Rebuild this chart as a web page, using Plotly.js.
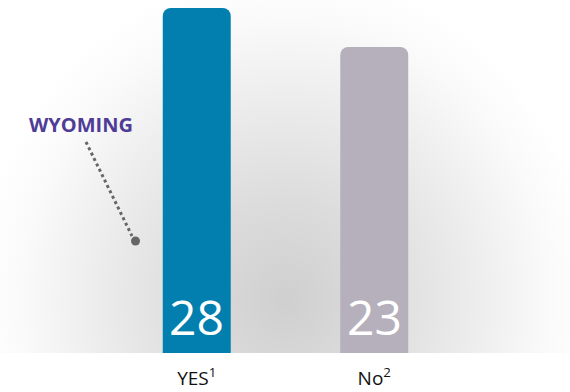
<!DOCTYPE html>
<html>
<head>
<meta charset="utf-8">
<script src="https://cdn.plot.ly/plotly-3.0.1.min.js"></script>
<style>
  html, body { margin:0; padding:0; background:#fff; }
  #wrap { position:relative; width:570px; height:392px; overflow:hidden; }
  #bg { position:absolute; left:0; top:0; width:570px; height:353px;
        background: radial-gradient(ellipse 310px 330px at 285px 300px, #cfcfcf 0%, #dcdcdc 30%, #ececec 60%, #fafafa 85%, #ffffff 100%); }
  #chart { position:absolute; left:0; top:0; width:570px; height:392px; }
</style>
</head>
<body>
<div id="wrap"><div id="bg"></div><div id="chart"></div></div>
<script>
// Data
const categories = ["YES", "No"];
const tickLabels = ["YES<sup>1</sup>", "No<sup>2</sup>"];
const values = [28, 23];
const barColors = ["#027FAE", "#B6B0BC"];
const axisFloor = -16.2;   // value axis does not start at zero in the original graphic
const calloutText = "WYOMING";

// bars start a little below the visible floor so the plot area clips them square at the bottom
const barBase = axisFloor - 2;
const trace = {
  type: "bar",
  x: categories,
  y: values.map(v => v - barBase),
  base: values.map(() => barBase),
  marker: { color: barColors, cornerradius: 8, line: { width: 0 } },
  hoverinfo: "skip"
};

const annotations = categories.map((c, i) => ({
  x: c, y: axisFloor, xref: "x", yref: "y",
  text: String(values[i]), showarrow: false,
  yanchor: "middle", yshift: 37,
  font: { family: "Open Sans, sans-serif", size: 48, color: "#ffffff" }
}));
annotations.push({
  xref: "paper", yref: "paper", x: (81 - 108) / 355, y: (353 - 124) / 345,
  text: "<b>" + calloutText + "</b>", showarrow: false,
  xanchor: "center", yanchor: "middle",
  font: { family: "Open Sans, sans-serif", size: 20, color: "#4F3C97" }
});

const px = x => (x - 108) / 355;
const py = y => (353 - y) / 345;

const layout = {
  width: 570, height: 392,
  margin: { l: 108, r: 107, t: 8, b: 39 },
  paper_bgcolor: "rgba(0,0,0,0)",
  plot_bgcolor: "rgba(0,0,0,0)",
  showlegend: false,
  bargap: 0.617,
  xaxis: {
    type: "category", tickvals: categories, ticktext: tickLabels,
    showgrid: false, zeroline: false, showline: false, ticks: "",
    ticklabelstandoff: 12,
    tickfont: { family: "Open Sans, sans-serif", size: 19, color: "#111" },
    fixedrange: true
  },
  yaxis: {
    range: [axisFloor, 28], visible: false, showgrid: false, zeroline: false, fixedrange: true
  },
  annotations: annotations,
  shapes: [
    { type: "line", xref: "paper", yref: "paper", x0: px(86), y0: py(142), x1: px(132), y1: py(236),
      line: { color: "#666", width: 3, dash: "dot" } },
    { type: "circle", xref: "paper", yref: "paper", x0: px(131), y0: py(236.5), x1: px(140), y1: py(245.5),
      fillcolor: "#666", line: { width: 0 } }
  ]
};

Plotly.newPlot("chart", [trace], layout, { displayModeBar: false, staticPlot: true });
</script>
</body>
</html>
